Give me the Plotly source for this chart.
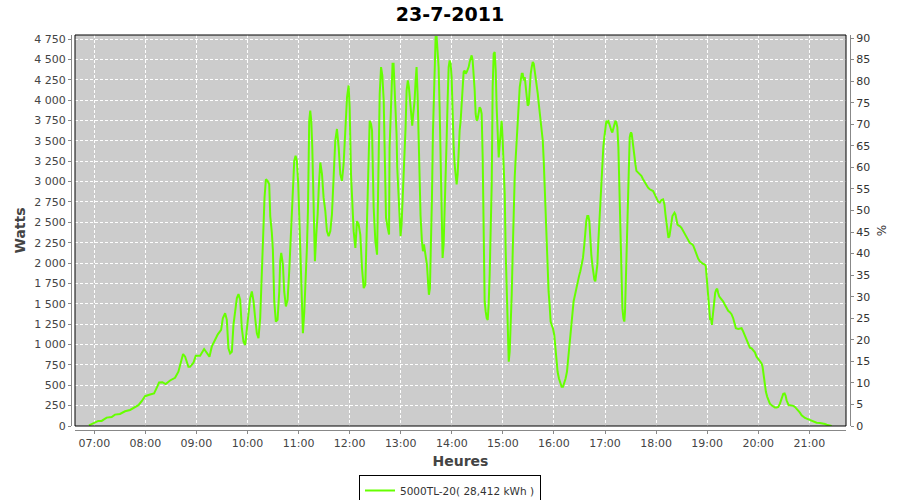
import plotly.graph_objects as go
from datetime import datetime, timedelta

# ---- data: time (minutes after midnight) and power (W) ----
t_morning = [413.7, 420.8, 424.7, 428.6, 434.5, 440.4, 444.3, 450.2, 456.1, 462.0,
             467.8, 471.8, 475.7, 479.6, 485.5, 490.2, 493.3, 496.1, 500.0, 503.9,
             509.0, 514.9, 518.8, 522.0, 524.3, 526.7, 530.6, 532.5, 536.5, 539.2,
             544.3, 549.0, 552.2, 555.3, 558.0, 562.0, 565.1, 569.0, 571.0, 573.7,
             575.7, 577.6, 579.6]
w_morning = [8, 49, 62, 62, 103, 111, 140, 148, 181, 197,
             226, 255, 304, 366, 386, 399, 469, 534, 538, 514,
             559, 592, 666, 810, 884, 851, 727, 727, 777, 863,
             863, 945, 892, 851, 974, 1064, 1126, 1180, 1323, 1385,
             1303, 954, 892]

t_late_morning = [581.6, 583.5, 585.5, 587.5, 589.4, 591.4, 593.3, 595.3, 597.3, 599.2,
                  601.2, 603.1, 605.1, 607.1, 609.0, 611.0, 612.9, 614.9, 616.9, 618.8,
                  620.0, 621.6, 623.5, 625.5, 626.7, 628.6, 629.8, 631.4, 633.3, 635.3,
                  637.3, 638.4, 639.6, 641.6, 643.1, 645.1, 647.1, 649.0, 651.0, 652.9,
                  654.9, 656.5, 658.0, 659.6, 661.2, 662.7, 663.9, 665.1, 666.7, 668.2,
                  669.8, 671.0, 672.5, 673.7, 674.9, 676.1, 677.6, 679.2, 680.8, 682.4,
                  683.9, 685.5, 687.5, 689.4, 691.4, 693.3, 695.3, 697.3, 699.2, 701.2,
                  703.1, 705.1, 707.1, 709.0, 711.0, 712.9, 714.9, 716.9, 718.8, 720.0,
                  721.6, 723.5, 724.7, 726.7, 728.6, 730.6, 732.5, 734.5, 736.5, 738.4,
                  740.4, 742.4, 743.5, 745.1, 746.3, 748.2, 750.2, 752.2, 754.1, 755.3,
                  756.9, 758.4, 760.0, 761.2, 762.7, 764.7, 766.3]
w_late_morning = [912, 1241, 1406, 1570, 1619, 1549, 1200, 1036, 995, 1200,
                  1447, 1570, 1652, 1529, 1323, 1138, 1077, 1323, 1899, 2577,
                  2803, 3029, 3009, 2967, 2577, 2371, 2166, 1529, 1282, 1303,
                  1652, 2022, 2125, 1981, 1652, 1467, 1549, 1899, 2351, 2803,
                  3255, 3317, 3255, 2967, 2474, 2022, 1611, 1138, 1406, 1755,
                  2187, 2639, 3748, 3872, 3748, 3420, 2803, 2022, 2351, 2598,
                  2967, 3235, 3091, 2803, 2639, 2392, 2330, 2392, 2598, 3091,
                  3502, 3646, 3420, 3091, 3009, 3214, 3666, 4036, 4180, 3913,
                  3091, 2721, 2392, 2187, 2515, 2474, 2351, 1940, 1693, 1734,
                  2556, 3420, 3748, 3707, 3625, 2680, 2269, 2104, 3173, 4077,
                  4406, 4303, 3995, 3337, 2556, 2433, 2351]

t_afternoon = [766.9, 768.0, 769.2, 770.4, 771.6, 772.7, 773.9, 775.1, 775.9, 777.5,
               778.6, 779.8, 781.0, 782.2, 783.3, 784.5, 785.7, 786.9, 788.4, 789.6,
               790.8, 792.4, 793.5, 794.7, 796.3, 797.5, 798.6, 799.8, 801.0, 802.2,
               803.3, 804.9, 806.1, 807.3, 808.4, 809.6, 810.8, 812.0, 813.1, 814.3,
               815.5, 816.7, 817.8, 819.0, 820.2, 821.0, 822.2, 823.3, 824.5, 825.7,
               826.9, 828.0, 829.2, 830.4, 831.6, 832.7, 833.9, 835.1, 836.3, 837.5,
               838.6, 839.8, 841.0, 842.2, 843.3, 844.5, 845.7, 846.9, 848.0, 849.2,
               850.4, 851.6, 852.7, 853.9, 855.1, 856.3, 857.5, 858.6, 859.8, 861.0,
               862.2, 863.3, 864.5, 865.7, 866.9, 868.0, 869.2, 870.4, 871.6, 872.7,
               873.9, 875.1, 876.3, 877.5, 878.6, 879.8, 881.0, 882.2, 883.3, 884.5,
               885.7, 886.9, 888.0, 889.2, 890.4, 891.6, 892.7, 893.9, 895.1, 896.3,
               897.5, 898.6, 899.8, 901.0, 902.2, 903.3, 904.5, 905.7, 906.9, 908.0,
               909.2, 910.4, 911.6, 912.7, 913.9, 915.1, 916.3, 917.5, 918.6, 919.8,
               921.0, 922.2, 923.3, 924.5, 925.7, 926.9, 928.0, 929.2, 930.4, 931.6,
               932.7, 933.9, 935.1, 936.3, 937.5, 938.6, 939.8, 941.0, 942.2, 943.3,
               944.5, 945.7, 946.9, 948.0, 949.2]
w_afternoon = [3420, 3831, 4283, 4447, 4447, 4200, 3913, 3584, 3173, 2762,
               2474, 2330, 2474, 2762, 3091, 3378, 3666, 4118, 4242, 4159,
               3995, 3831, 3687, 3831, 3995, 4242, 4406, 4077, 3584, 3009,
               2577, 2269, 2145, 2228, 2104, 2063, 1981, 1776, 1611, 1693,
               2187, 2803, 3584, 4077, 4694, 4776, 4776, 4570, 4406, 3913,
               3255, 2762, 2063, 2228, 2598, 3050, 3502, 3995, 4406, 4488,
               4447, 4283, 3748, 3420, 3214, 3091, 2967, 3091, 3378, 3625,
               3748, 3995, 4200, 4344, 4365, 4324, 4344, 4365, 4406, 4468,
               4509, 4550, 4488, 4324, 4118, 3831, 3748, 3769, 3851, 3913,
               3892, 3831, 3296, 2351, 1529, 1406, 1323, 1303, 1488, 1858,
               2351, 2967, 4159, 4570, 4591, 4365, 3913, 3461, 3296, 3461,
               3625, 3748, 3502, 3214, 2844, 2145, 1611, 995, 789, 912,
               1200, 1611, 2145, 2639, 3050, 3296, 3543, 3789, 4036, 4159,
               4242, 4324, 4324, 4242, 4283, 4159, 4036, 3933, 3954, 4200,
               4324, 4406, 4468, 4447, 4365, 4283, 4200, 4077, 3954, 3831,
               3748, 3625, 3502, 3255, 2885]

t_late_afternoon = [950.2, 951.4, 952.5, 953.7, 954.9, 956.1, 957.3, 958.8, 960.4, 961.6,
                    962.7, 964.3, 965.9, 967.5, 969.0, 970.6, 972.2, 973.7, 975.3, 976.9,
                    978.4, 980.0, 981.6, 983.1, 984.7, 986.3, 987.8, 989.4, 991.0, 992.5,
                    994.1, 995.7, 996.9, 998.0, 999.2, 1000.4, 1001.6, 1002.7, 1003.9, 1005.1,
                    1006.3, 1007.5, 1008.6, 1009.8, 1011.0, 1012.2, 1013.3, 1014.5, 1015.7, 1016.9,
                    1018.0, 1019.2, 1020.4, 1021.6, 1022.7, 1023.9, 1025.1, 1026.3, 1027.5, 1028.6,
                    1029.8, 1031.0, 1032.2, 1033.3, 1034.5, 1035.7, 1036.5, 1037.3, 1038.0, 1039.2,
                    1040.4, 1041.6, 1042.7, 1043.5, 1044.3, 1045.1, 1045.9, 1046.7, 1047.5, 1048.2,
                    1049.0, 1049.8, 1050.6, 1051.4, 1052.2, 1053.3, 1054.5, 1055.7, 1056.9, 1058.8,
                    1060.8, 1062.7, 1064.7, 1066.7, 1068.6, 1070.6, 1072.5, 1074.5, 1076.5, 1078.4,
                    1080.4, 1082.4, 1084.3, 1086.3, 1088.2, 1089.8, 1091.0, 1092.2, 1093.3, 1094.5,
                    1095.7, 1096.9, 1098.0, 1099.2, 1100.4, 1101.6, 1102.7, 1103.9, 1105.1, 1106.3,
                    1107.8, 1109.8, 1111.8, 1113.7, 1115.7, 1117.6, 1119.6]
w_late_afternoon = [2556, 2228, 1940, 1652, 1488, 1282, 1241, 1200, 1118, 954,
                    789, 666, 584, 522, 481, 481, 522, 584, 666, 871,
                    1036, 1200, 1365, 1529, 1611, 1714, 1776, 1837, 1899, 1981,
                    2063, 2228, 2392, 2515, 2577, 2577, 2515, 2269, 2104, 1981,
                    1858, 1796, 1776, 1858, 1981, 2269, 2515, 2721, 2926, 3173,
                    3420, 3543, 3666, 3748, 3728, 3740, 3707, 3646, 3625, 3604,
                    3666, 3707, 3748, 3728, 3666, 3420, 3091, 2680, 2145, 1693,
                    1447, 1323, 1282, 1406, 1734, 1940, 2392, 2762, 3132, 3420,
                    3543, 3584, 3604, 3584, 3502, 3461, 3337, 3214, 3132, 3111,
                    3099, 3070, 3029, 2988, 2959, 2926, 2906, 2893, 2885, 2844,
                    2803, 2754, 2741, 2774, 2782, 2721, 2598, 2474, 2351, 2310,
                    2330, 2392, 2495, 2577, 2610, 2618, 2598, 2536, 2474, 2462,
                    2454, 2433, 2392, 2351, 2310, 2269, 2248]

t_evening = [1121.6, 1123.5, 1125.5, 1127.5, 1129.4, 1131.4, 1133.3, 1135.3, 1137.3, 1138.4,
             1139.2, 1140.0, 1141.2, 1142.4, 1143.5, 1144.7, 1145.5, 1146.3, 1147.1, 1148.2,
             1149.4, 1150.6, 1151.8, 1152.9, 1154.1, 1155.7, 1157.3, 1158.8, 1160.8, 1162.7,
             1164.7, 1166.7, 1168.6, 1170.6, 1172.5, 1173.7, 1176.5, 1178.4, 1180.4, 1182.4,
             1184.3, 1186.3, 1188.2, 1190.2, 1192.2, 1194.1, 1196.1, 1198.0, 1200.0, 1202.0,
             1203.9, 1205.1, 1205.9, 1206.7, 1207.8, 1209.0, 1210.6, 1212.2, 1213.7, 1215.7,
             1217.6, 1219.6, 1221.6, 1223.5, 1225.5, 1226.7, 1227.8, 1229.4, 1231.0, 1232.2,
             1233.3, 1234.5, 1235.7, 1237.3, 1239.2, 1241.2, 1243.1, 1245.1, 1247.1, 1249.0,
             1251.0, 1252.9, 1254.9, 1256.9, 1258.8, 1260.8, 1262.7, 1264.7, 1266.7, 1268.6,
             1272.5, 1276.5, 1278.4, 1280.4, 1282.4, 1284.3, 1286.3]
w_evening = [2236, 2219, 2166, 2104, 2055, 2022, 2002, 1989, 1981, 1960,
             1858, 1755, 1570, 1406, 1303, 1323, 1241, 1323, 1406, 1529,
             1632, 1673, 1685, 1632, 1591, 1570, 1549, 1529, 1488, 1447,
             1414, 1397, 1373, 1323, 1262, 1200, 1192, 1200, 1200, 1159,
             1110, 1056, 995, 962, 954, 933, 904, 851, 822, 789,
             769, 727, 666, 584, 481, 419, 358, 304, 275, 255,
             242, 226, 226, 234, 275, 316, 370, 395, 399, 370,
             316, 275, 255, 255, 255, 247, 234, 214, 193, 164,
             132, 111, 99, 90, 82, 78, 70, 62, 49, 41,
             37, 33, 25, 16, 8, 4, 0]

series_name = "5000TL-20( 28,412 kWh )"
title_text = "23-7-2011"

t_all = t_morning + t_late_morning + t_afternoon + t_late_afternoon + t_evening
w_all = w_morning + w_late_morning + w_afternoon + w_late_afternoon + w_evening
assert len(t_all) == len(w_all), (len(t_all), len(w_all))

base = datetime(2011, 7, 23)
x_vals = [base + timedelta(minutes=m) for m in t_all]

FONT = "DejaVu Sans"
AXIS_GRAY = "#888888"
TEXT_GRAY = "#444444"

fig = go.Figure()
fig.add_trace(go.Scatter(
    x=x_vals, y=w_all, mode="lines", name=series_name,
    line=dict(color="#66ff00", width=2), yaxis="y",
))
# secondary (%) axis carries no data; empty trace so it is drawn
fig.add_trace(go.Scatter(x=[None], y=[None], yaxis="y2", showlegend=False,
                         hoverinfo="skip", mode="lines"))

W, H = 900, 500
ml, mr, mt, mb = 71, 50, 35, 70
pw, ph = W - ml - mr, H - mt - mb

fig.update_layout(
    width=W, height=H,
    margin=dict(l=ml, r=mr, t=mt, b=mb, pad=0, autoexpand=False),
    paper_bgcolor="white", plot_bgcolor="#cccccc",
    separators=", ",
    font=dict(family=FONT, size=11, color=TEXT_GRAY),
    title=dict(text="<b>" + title_text + "</b>",
               font=dict(family=FONT, size=19, color="black"),
               x=0.5, xref="container", xanchor="center",
               y=1 - 14 / H, yref="container", yanchor="middle",
               automargin=False),
    showlegend=True,
    legend=dict(orientation="h", x=0.5, xref="container", xanchor="center",
                y=(H - 475) / H, yref="container", yanchor="top",
                bordercolor="black", borderwidth=1, bgcolor="white",
                font=dict(family=FONT, size=10.5, color="#333333"),
                itemwidth=30),
    xaxis=dict(
        type="date", domain=[4 / pw, 775 / pw], anchor="free", position=0,
        automargin=False,
        range=["2011-07-23 06:37:20", "2011-07-23 21:43:07"],
        tick0="2011-07-23 07:00:00", dtick=3600000, tickformat="%H:%M",
        showgrid=True, gridcolor="white", gridwidth=1, griddash="3px,2px",
        showline=True, linecolor=AXIS_GRAY, linewidth=1,
        ticks="outside", ticklen=3, tickcolor=AXIS_GRAY,
        tickfont=dict(family=FONT, size=11, color=TEXT_GRAY),
        zeroline=False,
        title=dict(text="<b>Heures</b>", standoff=6,
                   font=dict(family=FONT, size=14, color=TEXT_GRAY)),
    ),
    yaxis=dict(
        domain=[4 / ph, 1], anchor="free", position=0,
        automargin=False,
        range=[0, 4800], tick0=0, dtick=250, tickformat=",d",
        showgrid=True, gridcolor="white", gridwidth=1, griddash="3px,2px",
        showline=True, linecolor=AXIS_GRAY, linewidth=1,
        ticks="outside", ticklen=3, tickcolor=AXIS_GRAY,
        tickfont=dict(family=FONT, size=11, color=TEXT_GRAY),
        zeroline=False,
        title=dict(text="<b>Watts</b>", standoff=4,
                   font=dict(family=FONT, size=14, color=TEXT_GRAY)),
    ),
    yaxis2=dict(
        overlaying="y", side="right", anchor="free", position=1,
        automargin=False,
        range=[0, 90.7], tick0=0, dtick=5,
        showgrid=False, zeroline=False,
        showline=True, linecolor=AXIS_GRAY, linewidth=1,
        ticks="outside", ticklen=3, tickcolor=AXIS_GRAY,
        tickfont=dict(family=FONT, size=11, color="#333333"),
        title=dict(text="%", standoff=8,
                   font=dict(family=FONT, size=12, color="#333333")),
    ),
    shapes=[dict(type="rect", xref="x domain", yref="y domain",
                 x0=0, x1=1, y0=0, y1=1,
                 line=dict(color="black", width=1), layer="above")],
)

# remove the browser's default 8px page margin so the figure sits at (0, 0)
fig.write_html("out.html",
               config={"displayModeBar": False},
               post_script="document.body.style.margin='0';"
                           "document.body.style.overflow='hidden';")
